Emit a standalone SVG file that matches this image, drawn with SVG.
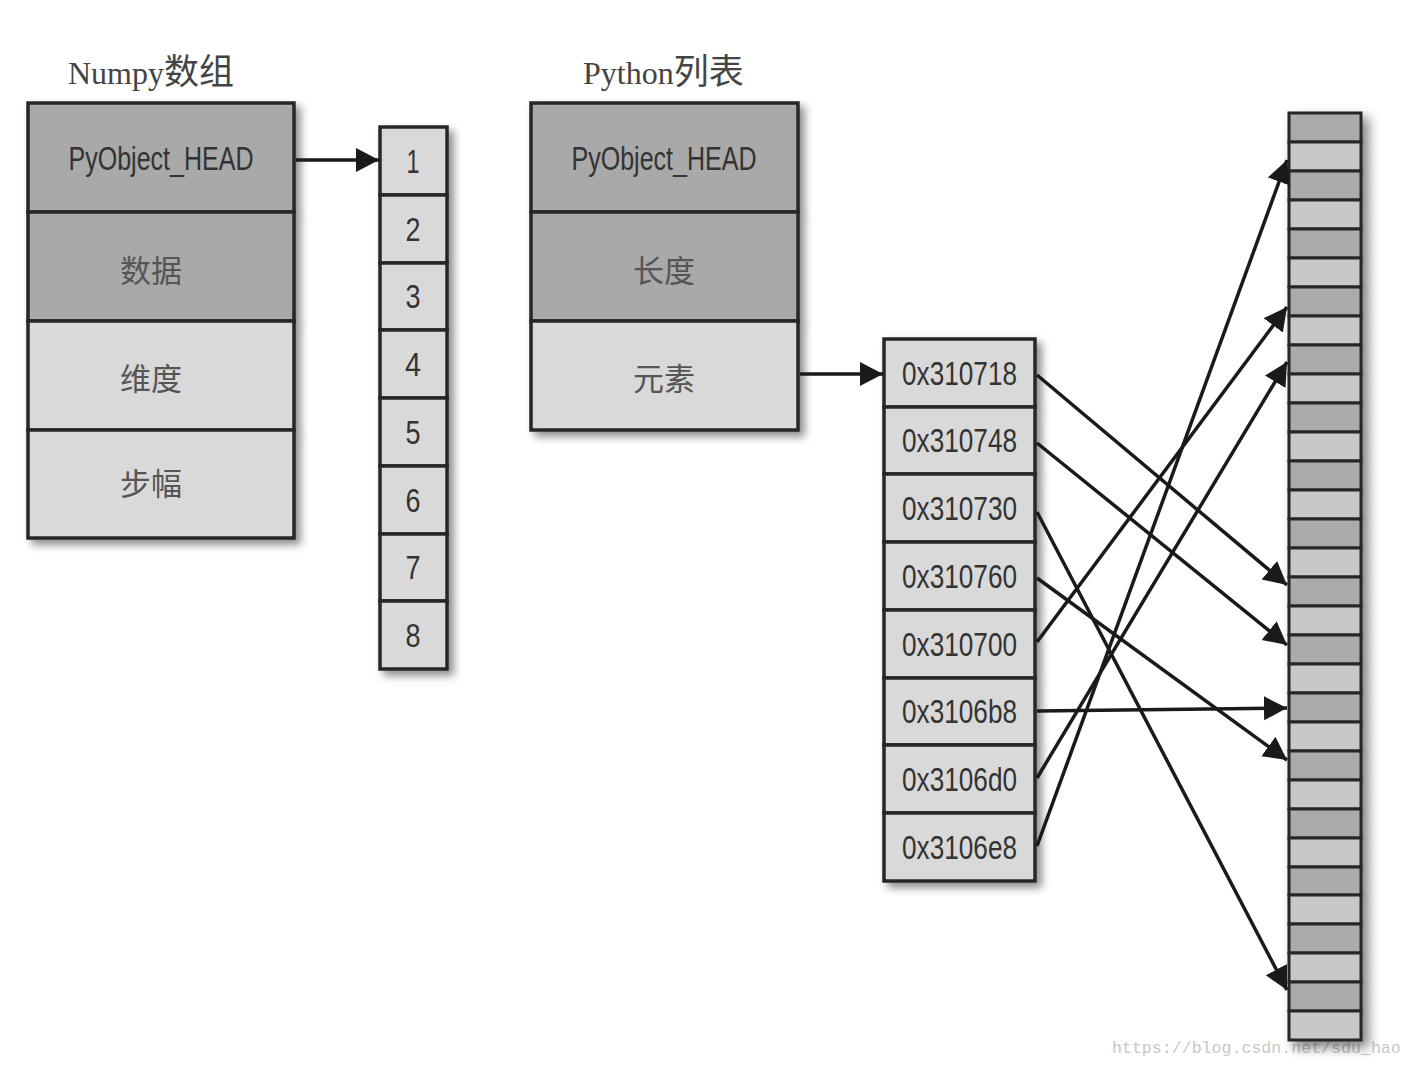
<svg xmlns="http://www.w3.org/2000/svg" width="1414" height="1066" viewBox="0 0 1414 1066">
<defs>
<filter id="sh" x="-20%" y="-20%" width="140%" height="140%">
<feDropShadow dx="5" dy="5" stdDeviation="4" flood-color="#000" flood-opacity="0.45"/>
</filter>
<filter id="sh2" x="-40%" y="-10%" width="180%" height="120%">
<feDropShadow dx="6" dy="6" stdDeviation="6" flood-color="#000" flood-opacity="0.5"/>
</filter>
<marker id="ah" markerUnits="userSpaceOnUse" markerWidth="26" markerHeight="26" refX="23" refY="12" orient="auto">
<path d="M0,0 L23,12 L0,24 z" fill="#1a1a1a"/>
</marker>
</defs>
<style>
.dk{fill:#a9a9a9;stroke:#262626;stroke-width:3.5}
.lt{fill:#d9d9d9;stroke:#262626;stroke-width:3.5}
.md{fill:#ababab;stroke:#262626;stroke-width:3}
.ml{fill:#c8c8c8;stroke:#262626;stroke-width:3}
.lab{font-family:"Liberation Sans",Arial,sans-serif;font-size:34px;fill:#333;text-anchor:middle}
.cjk{font-family:"Noto Sans CJK SC",sans-serif;font-size:31px;fill:#555;text-anchor:middle}
.ttl{font-family:"Liberation Serif","Noto Sans CJK SC",serif;font-size:32px;fill:#444}
.con line{stroke:#1a1a1a;stroke-width:3.5;marker-end:url(#ah)}
</style>
<rect width="1414" height="1066" fill="#fff"/>
<text x="1112" y="1053" font-family="Liberation Mono,monospace" font-size="16.6" fill="#c8c8c8">https://blog.csdn.net/sdu_hao</text>

<text class="ttl" x="68" y="84">Numpy<tspan font-family="Noto Sans CJK SC,sans-serif" font-size="35">数组</tspan></text>
<text class="ttl" x="583" y="84">Python<tspan font-family="Noto Sans CJK SC,sans-serif" font-size="35">列表</tspan></text>

<g id="numpy">
<g filter="url(#sh)">
<rect class="dk" x="28" y="103" width="266" height="109"/>
<rect class="dk" x="28" y="212" width="266" height="109"/>
<rect class="lt" x="28" y="321" width="266" height="109"/>
<rect class="lt" x="28" y="430" width="266" height="108"/>
</g>
<text class="lab" x="161" y="170" textLength="185" lengthAdjust="spacingAndGlyphs">PyObject_HEAD</text>
<text class="cjk" x="151" y="282">数据</text>
<text class="cjk" x="151" y="390">维度</text>
<text class="cjk" x="151" y="495">步幅</text>
</g>

<g id="nums">
<g filter="url(#sh)">
<rect class="lt" x="380" y="127" width="67" height="68"/>
<rect class="lt" x="380" y="195" width="67" height="68"/>
<rect class="lt" x="380" y="263" width="67" height="67"/>
<rect class="lt" x="380" y="330" width="67" height="68"/>
<rect class="lt" x="380" y="398" width="67" height="68"/>
<rect class="lt" x="380" y="466" width="67" height="68"/>
<rect class="lt" x="380" y="534" width="67" height="67"/>
<rect class="lt" x="380" y="601" width="67" height="68"/>
</g>
<text class="lab" x="413" y="173" textLength="13" lengthAdjust="spacingAndGlyphs">1</text>
<text class="lab" x="413" y="241" textLength="15" lengthAdjust="spacingAndGlyphs">2</text>
<text class="lab" x="413" y="308" textLength="15" lengthAdjust="spacingAndGlyphs">3</text>
<text class="lab" x="413" y="376" textLength="16" lengthAdjust="spacingAndGlyphs">4</text>
<text class="lab" x="413" y="444" textLength="15" lengthAdjust="spacingAndGlyphs">5</text>
<text class="lab" x="413" y="512" textLength="15" lengthAdjust="spacingAndGlyphs">6</text>
<text class="lab" x="413" y="579" textLength="15" lengthAdjust="spacingAndGlyphs">7</text>
<text class="lab" x="413" y="647" textLength="15" lengthAdjust="spacingAndGlyphs">8</text>
</g>

<g id="pylist">
<g filter="url(#sh)">
<rect class="dk" x="531" y="103" width="267" height="109"/>
<rect class="dk" x="531" y="212" width="267" height="109"/>
<rect class="lt" x="531" y="321" width="267" height="109"/>
</g>
<text class="lab" x="664" y="170" textLength="185" lengthAdjust="spacingAndGlyphs">PyObject_HEAD</text>
<text class="cjk" x="664" y="282">长度</text>
<text class="cjk" x="664" y="390">元素</text>
</g>

<g id="addrs">
<g filter="url(#sh)">
<rect class="lt" x="884" y="339" width="151" height="68"/>
<rect class="lt" x="884" y="407" width="151" height="67"/>
<rect class="lt" x="884" y="474" width="151" height="68"/>
<rect class="lt" x="884" y="542" width="151" height="68"/>
<rect class="lt" x="884" y="610" width="151" height="68"/>
<rect class="lt" x="884" y="678" width="151" height="67"/>
<rect class="lt" x="884" y="745" width="151" height="68"/>
<rect class="lt" x="884" y="813" width="151" height="68"/>
</g>
<text class="lab" x="959.5" y="385" textLength="115" lengthAdjust="spacingAndGlyphs">0x310718</text>
<text class="lab" x="959.5" y="452" textLength="115" lengthAdjust="spacingAndGlyphs">0x310748</text>
<text class="lab" x="959.5" y="520" textLength="115" lengthAdjust="spacingAndGlyphs">0x310730</text>
<text class="lab" x="959.5" y="588" textLength="115" lengthAdjust="spacingAndGlyphs">0x310760</text>
<text class="lab" x="959.5" y="656" textLength="115" lengthAdjust="spacingAndGlyphs">0x310700</text>
<text class="lab" x="959.5" y="723" textLength="115" lengthAdjust="spacingAndGlyphs">0x3106b8</text>
<text class="lab" x="959.5" y="791" textLength="115" lengthAdjust="spacingAndGlyphs">0x3106d0</text>
<text class="lab" x="959.5" y="859" textLength="115" lengthAdjust="spacingAndGlyphs">0x3106e8</text>
</g>

<g id="memory">
<g filter="url(#sh2)">
<rect class="md" x="1289" y="113" width="72" height="29"/>
<rect class="ml" x="1289" y="142" width="72" height="29"/>
<rect class="md" x="1289" y="171" width="72" height="29"/>
<rect class="ml" x="1289" y="200" width="72" height="29"/>
<rect class="md" x="1289" y="229" width="72" height="29"/>
<rect class="ml" x="1289" y="258" width="72" height="29"/>
<rect class="md" x="1289" y="287" width="72" height="29"/>
<rect class="ml" x="1289" y="316" width="72" height="29"/>
<rect class="md" x="1289" y="345" width="72" height="29"/>
<rect class="ml" x="1289" y="374" width="72" height="29"/>
<rect class="md" x="1289" y="403" width="72" height="29"/>
<rect class="ml" x="1289" y="432" width="72" height="29"/>
<rect class="md" x="1289" y="461" width="72" height="29"/>
<rect class="ml" x="1289" y="490" width="72" height="29"/>
<rect class="md" x="1289" y="519" width="72" height="29"/>
<rect class="ml" x="1289" y="548" width="72" height="29"/>
<rect class="md" x="1289" y="577" width="72" height="29"/>
<rect class="ml" x="1289" y="606" width="72" height="29"/>
<rect class="md" x="1289" y="635" width="72" height="29"/>
<rect class="ml" x="1289" y="664" width="72" height="29"/>
<rect class="md" x="1289" y="693" width="72" height="29"/>
<rect class="ml" x="1289" y="722" width="72" height="29"/>
<rect class="md" x="1289" y="751" width="72" height="29"/>
<rect class="ml" x="1289" y="780" width="72" height="29"/>
<rect class="md" x="1289" y="809" width="72" height="29"/>
<rect class="ml" x="1289" y="838" width="72" height="29"/>
<rect class="md" x="1289" y="867" width="72" height="28"/>
<rect class="ml" x="1289" y="895" width="72" height="29"/>
<rect class="md" x="1289" y="924" width="72" height="29"/>
<rect class="ml" x="1289" y="953" width="72" height="29"/>
<rect class="md" x="1289" y="982" width="72" height="29"/>
<rect class="ml" x="1289" y="1011" width="72" height="29"/>
</g>
</g>

<g id="connectors" class="con">
<line x1="296" y1="160" x2="379" y2="160"/>
<line x1="800" y1="374" x2="883" y2="374"/>
<line x1="1037" y1="375" x2="1287" y2="585"/>
<line x1="1037" y1="443" x2="1287" y2="645"/>
<line x1="1037" y1="512" x2="1287" y2="990"/>
<line x1="1037" y1="578" x2="1287" y2="760"/>
<line x1="1037" y1="642" x2="1287" y2="307"/>
<line x1="1037" y1="711" x2="1287" y2="708"/>
<line x1="1037" y1="778" x2="1287" y2="362"/>
<line x1="1037" y1="846" x2="1287" y2="160"/>
</g>
</svg>
